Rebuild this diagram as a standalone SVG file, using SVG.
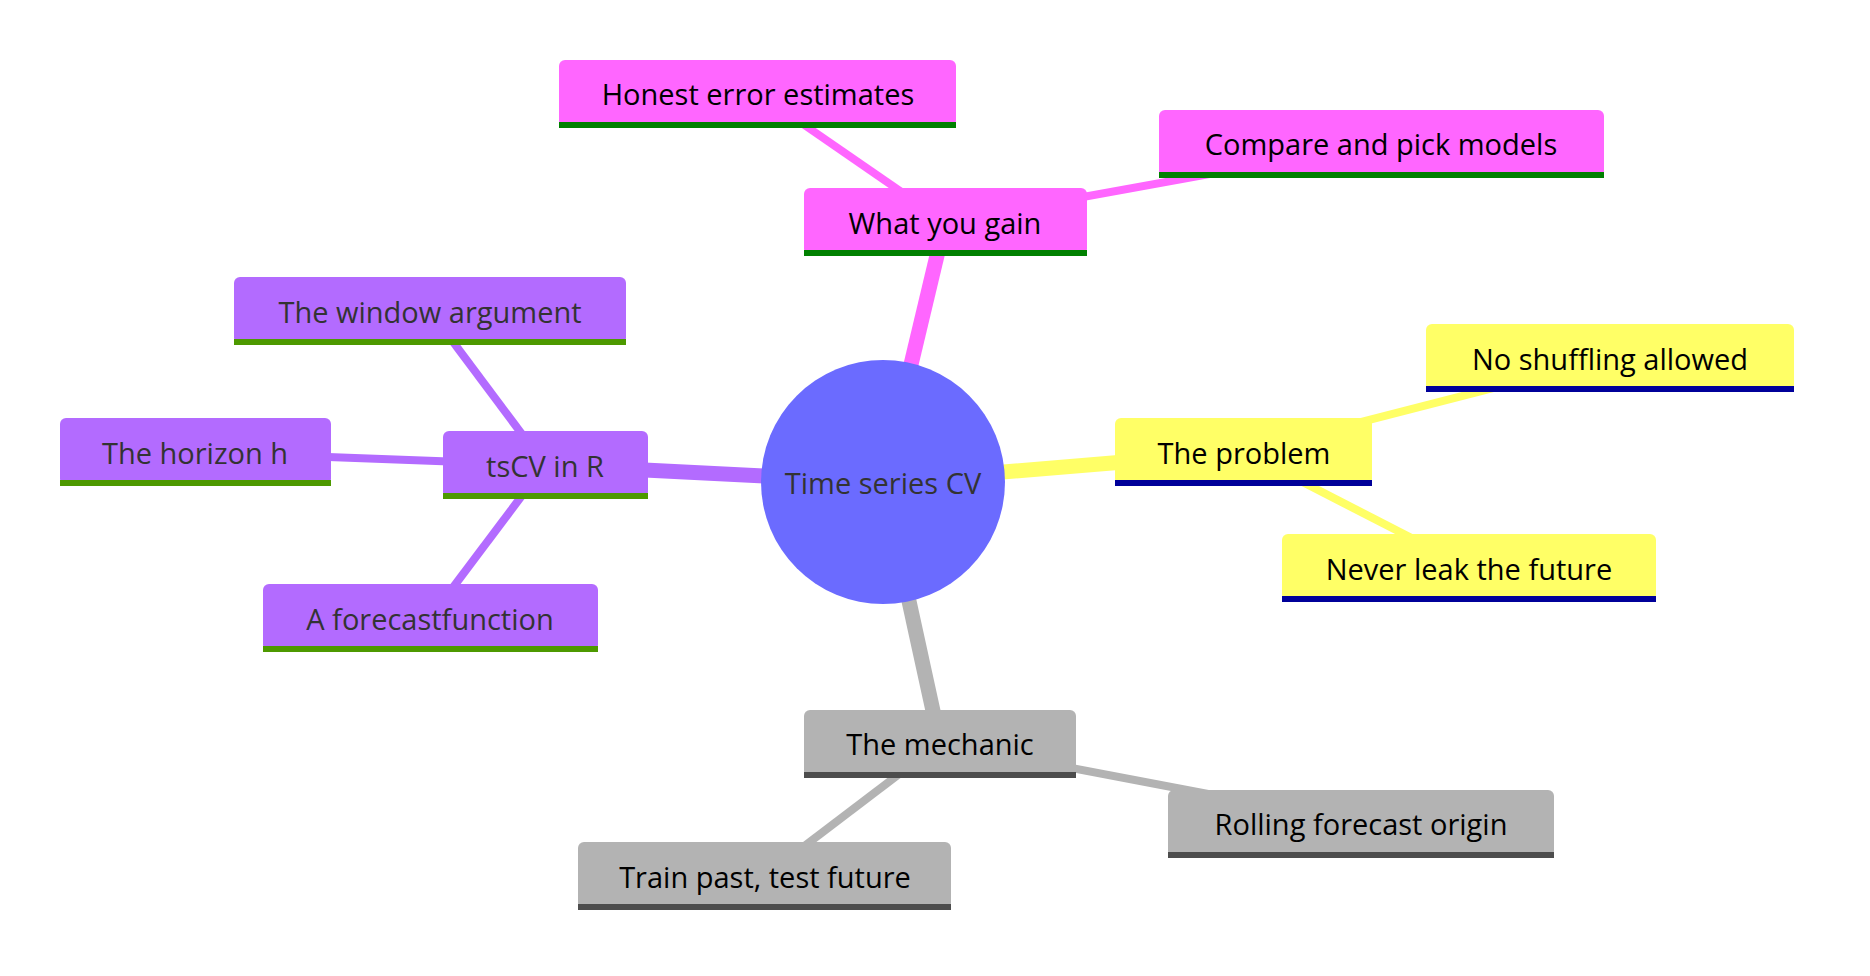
<svg xmlns="http://www.w3.org/2000/svg" width="1870" height="976" viewBox="0 0 1870 976">
<style>
text{font-family:"Open Sans","Noto Sans","Liberation Sans",sans-serif;font-size:29px;text-anchor:middle;dominant-baseline:central}
.pk{fill:#ff66ff}.yl{fill:#ffff66}.pu{fill:#b36bff}.gr{fill:#b3b3b3}
.e{fill:none;stroke-linecap:butt}
.t1{stroke-width:15}.t2{stroke-width:8}
.cpk{stroke:#ff66ff}.cyl{stroke:#ffff66}.cpu{stroke:#b36bff}.cgr{stroke:#b3b3b3}
.dark{fill:#333}
</style>
<rect width="1870" height="976" fill="#fff"/>
<g id="connectors">
<line class="e t1 cpk" x1="883" y1="482" x2="945" y2="222"/>
<line class="e t2 cpk" x1="758" y1="93" x2="945" y2="222"/>
<line class="e t2 cpk" x1="945" y1="222" x2="1381" y2="143"/>
<line class="e t1 cyl" x1="883" y1="482" x2="1244" y2="452"/>
<line class="e t2 cyl" x1="1244" y1="452" x2="1610" y2="358"/>
<line class="e t2 cyl" x1="1244" y1="452" x2="1470" y2="568"/>
<line class="e t1 cgr" x1="883" y1="482" x2="940" y2="743"/>
<line class="e t2 cgr" x1="940" y1="743" x2="1361" y2="823"/>
<line class="e t2 cgr" x1="940" y1="743" x2="765" y2="876"/>
<line class="e t1 cpu" x1="883" y1="482" x2="545" y2="465"/>
<line class="e t2 cpu" x1="545" y1="465" x2="430" y2="311"/>
<line class="e t2 cpu" x1="545" y1="465" x2="195" y2="452"/>
<line class="e t2 cpu" x1="545" y1="465" x2="430" y2="618"/>
</g>
<g id="root"><circle cx="883" cy="482" r="122" fill="#6b6bff"/><text x="883" y="482" class="dark">Time series CV</text></g>
<g id="gain"><rect class="pk" x="804" y="188" width="283" height="67" rx="6"/><rect x="804" y="250" width="283" height="6" fill="#008000"/><text x="945" y="222">What you gain</text></g>
<g id="honest"><rect class="pk" x="559" y="60" width="397" height="67" rx="6"/><rect x="559" y="122" width="397" height="6" fill="#008000"/><text x="758" y="93">Honest error estimates</text></g>
<g id="compare"><rect class="pk" x="1159" y="110" width="445" height="67" rx="6"/><rect x="1159" y="172" width="445" height="6" fill="#008000"/><text x="1381" y="143">Compare and pick models</text></g>
<g id="problem"><rect class="yl" x="1115" y="418" width="257" height="67" rx="6"/><rect x="1115" y="480" width="257" height="6" fill="#000099"/><text x="1244" y="452">The problem</text></g>
<g id="shuffle"><rect class="yl" x="1426" y="324" width="368" height="67" rx="6"/><rect x="1426" y="386" width="368" height="6" fill="#000099"/><text x="1610" y="358">No shuffling allowed</text></g>
<g id="leak"><rect class="yl" x="1282" y="534" width="374" height="67" rx="6"/><rect x="1282" y="596" width="374" height="6" fill="#000099"/><text x="1469" y="568">Never leak the future</text></g>
<g id="mechanic"><rect class="gr" x="804" y="710" width="272" height="67" rx="6"/><rect x="804" y="772" width="272" height="6" fill="#4d4d4d"/><text x="940" y="743">The mechanic</text></g>
<g id="rolling"><rect class="gr" x="1168" y="790" width="386" height="67" rx="6"/><rect x="1168" y="852" width="386" height="6" fill="#4d4d4d"/><text x="1361" y="823">Rolling forecast origin</text></g>
<g id="train"><rect class="gr" x="578" y="842" width="373" height="67" rx="6"/><rect x="578" y="904" width="373" height="6" fill="#4d4d4d"/><text x="765" y="876">Train past, test future</text></g>
<g id="tscv"><rect class="pu" x="443" y="431" width="205" height="67" rx="6"/><rect x="443" y="493" width="205" height="6" fill="#4d9900"/><text x="545" y="465" class="dark">tsCV in R</text></g>
<g id="window"><rect class="pu" x="234" y="277" width="392" height="67" rx="6"/><rect x="234" y="339" width="392" height="6" fill="#4d9900"/><text x="430" y="311" class="dark">The window argument</text></g>
<g id="horizon"><rect class="pu" x="60" y="418" width="271" height="67" rx="6"/><rect x="60" y="480" width="271" height="6" fill="#4d9900"/><text x="195" y="452" class="dark">The horizon h</text></g>
<g id="forecastfn"><rect class="pu" x="263" y="584" width="335" height="67" rx="6"/><rect x="263" y="646" width="335" height="6" fill="#4d9900"/><text x="430" y="618" class="dark">A forecastfunction</text></g>
</svg>
